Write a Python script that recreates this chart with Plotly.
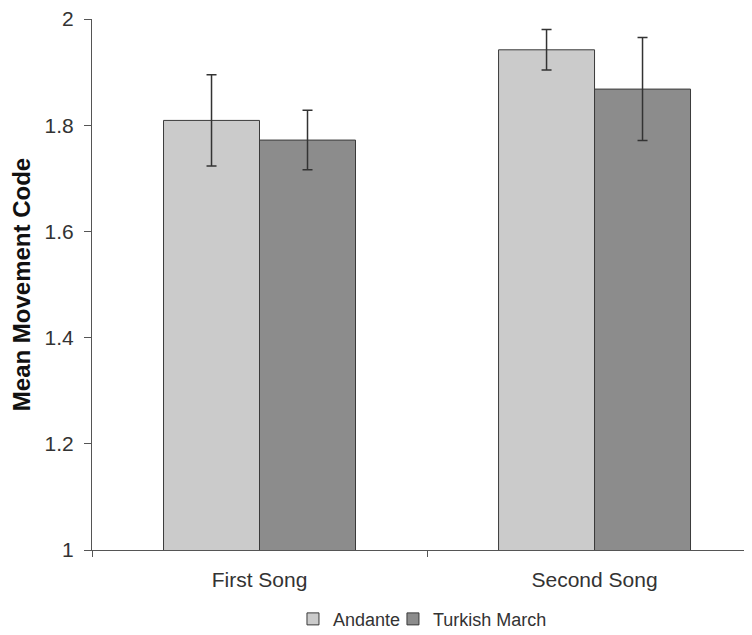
import plotly.graph_objects as go

categories = ["First Song", "Second Song"]
andante_mean = [1.809, 1.942]
andante_err = [0.086, 0.038]
turkish_mean = [1.772, 1.868]
turkish_err = [0.056, 0.097]
y_ticks = [1, 1.2, 1.4, 1.6, 1.8, 2]
y_tick_labels = ["1", "1.2", "1.4", "1.6", "1.8", "2"]

FONT = "Arial, Liberation Sans, sans-serif"

fig = go.Figure()
fig.add_trace(go.Bar(
    name="Andante", x=categories, y=andante_mean, legend="legend",
    marker=dict(color="#cbcbcb", line=dict(color="#3a3a3a", width=1)),
    error_y=dict(type="data", array=andante_err, color="#333333", thickness=1.5, width=5),
))
fig.add_trace(go.Bar(
    name="Turkish March", x=categories, y=turkish_mean, legend="legend2",
    marker=dict(color="#8c8c8c", line=dict(color="#3a3a3a", width=1)),
    error_y=dict(type="data", array=turkish_err, color="#333333", thickness=1.5, width=5),
))

leg_common = dict(orientation="h", xanchor="left", yref="container", y=0.0375, yanchor="middle",
                  font=dict(size=18, color="#333333"), itemwidth=30,
                  bgcolor="rgba(0,0,0,0)")

fig.update_layout(
    width=752, height=635,
    margin=dict(l=84, r=8, t=11, b=93, autoexpand=False),
    paper_bgcolor="white", plot_bgcolor="white",
    barmode="group", bargap=0.427, bargroupgap=0,
    font=dict(family=FONT, size=21, color="#333333"),
    showlegend=True,
    legend=dict(x=0.3045, **leg_common),
    legend2=dict(x=0.456, **leg_common),
    xaxis=dict(
        range=[-0.5, 1.47], showline=True, linecolor="#555555", linewidth=1,
        ticks="outside", ticklen=6, tickcolor="#555555", tickson="boundaries",
        ticklabelstandoff=11, ticklabeloverflow="allow",
        showgrid=False, tickfont=dict(size=21, color="#333333"), automargin=False,
    ),
    yaxis=dict(
        range=[1, 2], tickvals=y_ticks, ticktext=y_tick_labels,
        showline=True, linecolor="#555555", linewidth=1,
        ticks="outside", ticklen=7, tickcolor="#555555", ticklabelstandoff=6,
        ticklabeloverflow="allow",
        showgrid=False, zeroline=False, tickfont=dict(size=21, color="#333333"),
        title=dict(text="<b>Mean Movement Code</b>", font=dict(size=24, color="#111111"), standoff=10),
        automargin=False,
    ),
)

fig.write_html("out.html")
